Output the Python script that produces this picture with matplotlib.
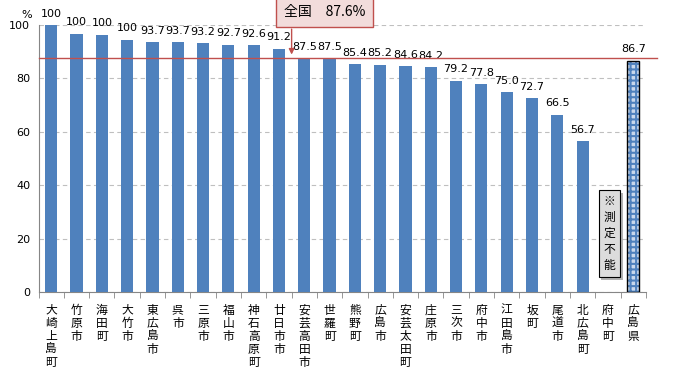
import numpy as np
import matplotlib.pyplot as plt
import matplotlib.patheffects as pe

plt.rcParams['font.family'] = ['Noto Sans CJK JP', 'DejaVu Sans']
plt.rcParams['hatch.linewidth'] = 1.5

names = ['大崎上島町', '竹原市', '海田町', '大竹市', '東広島市', '呉市', '三原市', '福山市',
         '神石高原町', '廿日市市', '安芸高田市', '世羅町', '熊野町', '広島市', '安芸太田町',
         '庄原市', '三次市', '府中市', '江田島市', '坂町', '尾道市', '北広島町', '府中町', '広島県']
# bar heights as drawn (first four are labelled 100 but drawn lower)
heights = [100, 96.8, 96.4, 94.5, 93.7, 93.7, 93.2, 92.7, 92.6, 91.2, 87.5, 87.5,
           85.4, 85.2, 84.6, 84.2, 79.2, 77.8, 75.0, 72.7, 66.5, 56.7, np.nan, 86.7]
labels = ['100', '100', '100', '100', '93.7', '93.7', '93.2', '92.7', '92.6', '91.2', '87.5', '87.5',
          '85.4', '85.2', '84.6', '84.2', '79.2', '77.8', '75.0', '72.7', '66.5', '56.7', '', '86.7']
national = 87.6

blue = '#4F81BD'
red = '#C0504D'

fig = plt.figure(figsize=(6.77, 3.73), dpi=100)
ax = fig.add_axes([0.057, 0.216, 0.897, 0.717])

x = np.arange(len(names))
h = np.nan_to_num(heights)
w = 0.48
ax.bar(x[:-1], h[:-1], width=w, color=blue, zorder=3)
# prefecture bar: checkered
ax.bar(x[-1], h[-1], width=w, color='#C9D8EC', edgecolor='#4F81BD', hatch='+++', linewidth=0, zorder=3)
ax.bar(x[-1], h[-1], width=w, color='none', edgecolor='black', linewidth=1.0, zorder=4)

for i, t in enumerate(labels):
    if t:
        ax.annotate(t, (x[i], h[i]), xytext=(0, 4.5), textcoords='offset points',
                    ha='center', va='bottom', fontsize=8, family=['DejaVu Sans'])

ax.axhline(national, xmin=0, xmax=1.018, color=red, linewidth=1.0, clip_on=False, zorder=5)

ax.set_xlim(-0.5, len(names) - 0.5)
ax.set_ylim(0, 100)
ax.set_yticks(np.arange(0, 101, 20))
ax.yaxis.grid(True, linestyle=(0, (4, 3)), color='#BFBFBF', linewidth=0.8)
ax.set_axisbelow(True)
for s in ['top', 'right']:
    ax.spines[s].set_visible(False)
for s in ['left', 'bottom']:
    ax.spines[s].set_color('#868686')
ax.tick_params(axis='y', length=0, labelsize=8, pad=6)
ax.set_xticks(x)
ax.set_xticklabels(['\n'.join(n) for n in names], fontsize=8.5, linespacing=1.0, va='top')
ax.set_xticks(np.arange(-0.5, len(names), 1), minor=True)
ax.tick_params(axis='x', which='major', length=0, pad=8)
ax.tick_params(axis='x', which='minor', length=4, color='#868686', direction='out')
for lab in ax.get_yticklabels():
    lab.set_family(['DejaVu Sans'])

ax.text(-0.75, 102, '%', ha='right', va='bottom', fontsize=8, family=['DejaVu Sans'])

# national average callout
ax.annotate('', xy=(9.5, national + 0.3), xytext=(9.5, 99.5),
            arrowprops=dict(arrowstyle='-|>', color=red, lw=1.0, mutation_scale=8),
            annotation_clip=False)
ax.text(10.8, 104.8, '全国\u300087.6%', ha='center', va='center', fontsize=10,
        bbox=dict(boxstyle='square,pad=0.55', facecolor='#F2DCDB', edgecolor=red, linewidth=1.0),
        zorder=6, clip_on=False)

# not measurable note
t = ax.text(22.05, 22, '\n'.join('※測定不能'), ha='center', va='center', fontsize=8.5,
            linespacing=1.3,
            bbox=dict(boxstyle='square,pad=0.4', facecolor='#DCDCDC', edgecolor='black', linewidth=0.8),
            zorder=6)
t.get_bbox_patch().set_path_effects([pe.SimplePatchShadow(offset=(2, -2), alpha=0.4), pe.Normal()])

fig.savefig('out.png', dpi=100)
